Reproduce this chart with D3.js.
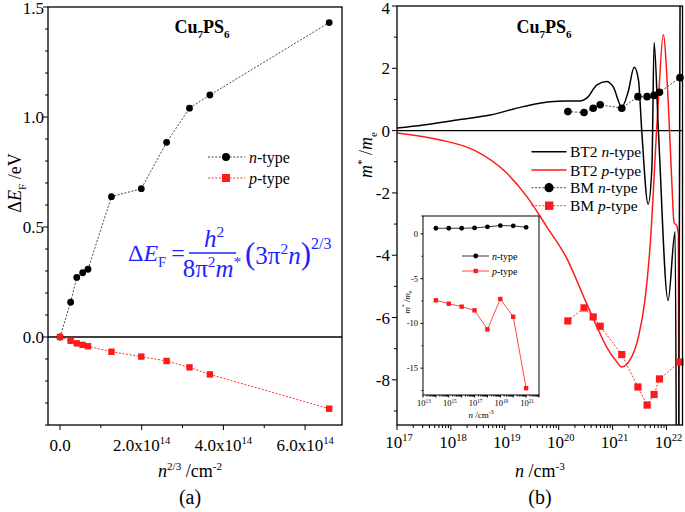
<!DOCTYPE html>
<html><head><meta charset="utf-8">
<script src="https://cdn.jsdelivr.net/npm/d3@7"></script>
<style>body{margin:0;background:#fff} svg{display:block}</style>
</head><body><svg id="c" width="685" height="512" font-family="Liberation Serif"></svg>
<script>
// ---------- DATA ----------
// Panel (a): x = n^(2/3) (cm^-2)
const aX = [0, 0.26e14, 0.41e14, 0.555e14, 0.685e14, 1.26e14, 1.99e14, 2.61e14, 3.17e14, 3.67e14, 6.59e14];
const aNType = [0, 0.158, 0.271, 0.292, 0.308, 0.638, 0.674, 0.885, 1.04, 1.10, 1.429];
const aPType = [0, -0.017, -0.029, -0.036, -0.042, -0.067, -0.089, -0.109, -0.138, -0.170, -0.326];
const aXTicks = [0, 2e14, 4e14, 6e14];
const aXTickLabels = [["0.0"], ["2.0x10", "14"], ["4.0x10", "14"], ["6.0x10", "14"]];
const aYTicks = [0, 0.5, 1.0, 1.5];
const aYTickLabels = ["0.0", "0.5", "1.0", "1.5"];

// Panel (b): BM points, log10(n / cm^-3)
const bmLogN = [20.17, 20.47, 20.64, 20.77, 21.17, 21.47, 21.64, 21.77, 21.87, 22.25];
const bmNType = [0.61, 0.58, 0.72, 0.83, 0.72, 1.09, 1.09, 1.13, 1.23, 1.70];
const bmPType = [-6.11, -5.69, -5.98, -6.28, -7.19, -8.23, -8.81, -8.47, -7.97, -7.43];
// BT2 curves
const bt2NLogN = [17.0, 17.49, 18.11, 18.73, 19.34, 19.84, 20.15, 20.40, 20.52, 20.71, 20.89, 21.01, 21.17, 21.29, 21.40, 21.48, 21.54, 21.66, 21.73, 21.77, 21.85, 22.03, 22.16, 22.21, 22.265];
const bt2NVal  = [0.08, 0.18, 0.34, 0.50, 0.77, 0.93, 0.95, 0.95, 1.04, 1.47, 1.58, 1.41, 0.76, 1.25, 2.03, 1.63, 0.02, -2.36, -1.16, 2.83, 0.0, -5.45, -3.25, -20, 12];
const bt2PLogN = [17.0, 17.80, 18.42, 19.04, 19.41, 19.78, 20.15, 20.49, 20.71, 20.89, 21.08, 21.17, 21.32, 21.48, 21.60, 21.69, 21.85, 21.94, 22.03, 22.10, 22.14, 22.19, 22.22, 22.245];
const bt2PVal  = [-0.08, -0.30, -0.62, -1.37, -2.12, -3.09, -4.10, -5.44, -6.30, -6.95, -7.43, -7.59, -7.37, -6.62, -5.44, -3.84, 0.99, 3.08, 0.99, -1.7, -2.95, -3.05, -3.3, -20];
const bXTickExp = [17, 18, 19, 20, 21, 22];
const bYTicks = [-8, -6, -4, -2, 0, 2, 4];

// Inset
const inLogN = [14, 15, 16, 17, 18, 19, 20, 21];
const inNType = [0.63, 0.63, 0.63, 0.67, 0.79, 0.93, 0.90, 0.74];
const inPType = [-7.42, -7.80, -8.13, -8.54, -10.67, -7.27, -9.26, -17.24];
const inXTickExp = [13, 15, 17, 19, 21];
const inYTicks = [-15, -10, -5, 0];

// ---------- HELPERS ----------
const svg = d3.select("#c");
const FONT = "Liberation Serif";
const RED = "#ff1a1a", BLUE = "#1f1fff";

function rich(g, x, y, parts, size, anchor, color) {
  const t = g.append("text").attr("x", x).attr("y", y).attr("font-size", size).attr("font-family", FONT)
    .attr("text-anchor", anchor || "start").attr("fill", color || "#000");
  let shift = 0;
  parts.forEach(p => {
    const s = Array.isArray(p) ? p[0] : p, o = (Array.isArray(p) && p[1]) || {};
    const target = o.sup ? -(o.lift || 0.4) * size : o.sub ? 0.25 * size : 0;
    const ts = t.append("tspan").text(s).attr("dy", target - shift);
    shift = target;
    if (o.sup || o.sub) ts.attr("font-size", size * (o.scale || 0.62));
    if (o.size) ts.attr("font-size", o.size);
    if (o.i) ts.attr("font-style", "italic");
    if (o.b) ts.attr("font-weight", "bold");
  });
  return t;
}
function plain(g, x, y, s, size, anchor) {
  return g.append("text").attr("x", x).attr("y", y).attr("font-size", size).attr("font-family", FONT).attr("text-anchor", anchor || "start").text(s);
}
function ticksX(g, scale, vals, y, len) {
  g.selectAll(null).data(vals).join("line")
    .attr("x1", d => scale(d)).attr("x2", d => scale(d)).attr("y1", y).attr("y2", y + len)
    .attr("stroke", "#000").attr("stroke-width", 1);
}
function ticksY(g, scale, vals, x, len) {
  g.selectAll(null).data(vals).join("line")
    .attr("y1", d => scale(d)).attr("y2", d => scale(d)).attr("x1", x).attr("x2", x - len)
    .attr("stroke", "#000").attr("stroke-width", 1);
}

// ---------- PANEL (a) ----------
const A = {x0: 48, x1: 342, y0: 7, y1: 425};
const xA = d3.scaleLinear().domain([-0.294e14, 6.904e14]).range([A.x0, A.x1]);
const yA = d3.scaleLinear().domain([-0.4, 1.5]).range([A.y1, A.y0]);
const ga = svg.append("g");

ga.append("line").attr("x1", A.x0).attr("x2", A.x1).attr("y1", yA(0)).attr("y2", yA(0)).attr("stroke", "#000").attr("stroke-width", 1.3);

const lineA = d3.line().x((d, i) => xA(aX[i])).y(d => yA(d));
ga.append("path").attr("d", lineA(aNType)).attr("fill", "none").attr("stroke", "#333").attr("stroke-width", 0.9).attr("stroke-dasharray", "2,1.6");
ga.append("path").attr("d", lineA(aPType)).attr("fill", "none").attr("stroke", RED).attr("stroke-width", 0.9).attr("stroke-dasharray", "2,1.6");
ga.selectAll(null).data(aNType).join("circle").attr("cx", (d, i) => xA(aX[i])).attr("cy", d => yA(d)).attr("r", 3.4).attr("fill", "#000");
ga.selectAll(null).data(aPType).join("rect").attr("x", (d, i) => xA(aX[i]) - 3.2).attr("y", d => yA(d) - 3.2).attr("width", 6.4).attr("height", 6.4).attr("fill", RED);

ga.append("rect").attr("x", A.x0).attr("y", A.y0).attr("width", A.x1 - A.x0).attr("height", A.y1 - A.y0).attr("fill", "none").attr("stroke", "#000").attr("stroke-width", 1.3);

// ticks
ticksX(ga, xA, aXTicks, A.y1, 5);
ticksX(ga, xA, [1e14, 3e14, 5e14], A.y1, 3);
ticksY(ga, yA, aYTicks, A.x0, 5);
const aMinorY = d3.range(-4, 15).map(d => d / 10).filter(d => Math.abs(d * 2 - Math.round(d * 2)) > 1e-6);
ticksY(ga, yA, aMinorY, A.x0, 3);
aYTickLabels.forEach((s, i) => plain(ga, 44, Math.max(yA(aYTicks[i]) + 6, 14), s, 17, "end"));
aXTickLabels.forEach((p, i) => {
  const parts = p.length > 1 ? [p[0], [p[1], {sup: true}]] : [p[0]];
  rich(ga, xA(aXTicks[i]), 451, parts, 17, "middle");
});
rich(ga, 190, 477, [["n", {i: true}], ["2/3", {sup: true}], [" /cm"], ["-2", {sup: true}]], 18, "middle");
rich(ga, 0, 0, [["Δ"], ["E", {i: true}], ["F", {sub: true}], [" /eV"]], 18, "middle").attr("transform", "translate(21,183) rotate(-90)");
plain(ga, 190, 504, "(a)", 20, "middle");
rich(ga, 202, 33, [["Cu", {b: true}], ["7", {b: true, sub: true}], ["PS", {b: true}], ["6", {b: true, sub: true}]], 18, "middle");

// legend (a)
[[157, "#333", "circle", "n"], [178, RED, "rect", "p"]].forEach(([y, c, m, t]) => {
  ga.append("line").attr("x1", 208).attr("x2", 245).attr("y1", y).attr("y2", y).attr("stroke", c).attr("stroke-width", 0.9).attr("stroke-dasharray", "2,1.6");
  if (m === "circle") ga.append("circle").attr("cx", 226).attr("cy", y).attr("r", 4).attr("fill", "#000");
  else ga.append("rect").attr("x", 222).attr("y", y - 4).attr("width", 8).attr("height", 8).attr("fill", RED);
  rich(ga, 249, y + 5.5, [[t, {i: true}], ["-type"]], 16);
});

// formula
const fg = ga.append("g");
rich(fg, 128, 261, [["Δ"], ["E", {i: true}], ["F", {sub: true, scale: 0.6}]], 24, "start", BLUE);
rich(fg, 178, 261, [["="]], 24, "middle", BLUE);
fg.append("line").attr("x1", 189).attr("x2", 236).attr("y1", 253).attr("y2", 253).attr("stroke", BLUE).attr("stroke-width", 1.3);
rich(fg, 214, 247, [["h", {i: true}], ["2", {sup: true}]], 25, "middle", BLUE);
rich(fg, 212, 277, [["8π"], ["2", {sup: true}], ["m", {i: true}], ["*", {sup: true}]], 25, "middle", BLUE);
rich(fg, 245, 264, [["(", {size: 31}], ["3π"], ["2", {sup: true}], ["n", {i: true}], [")", {size: 31}], ["2/3", {sup: true, scale: 0.64, lift: 0.6}]], 25, "start", BLUE);

// ---------- PANEL (b) ----------
const B = {x0: 397, x1: 682.5, y0: 6, y1: 425};
const xB = d3.scaleLog().domain([1e17, Math.pow(10, 22.297)]).range([B.x0, B.x1]);
const yB = d3.scaleLinear().domain([-9.45, 4]).range([B.y1, B.y0]);
const gb = svg.append("g");
svg.append("defs").append("clipPath").attr("id", "clipB").append("rect")
  .attr("x", B.x0).attr("y", B.y0).attr("width", B.x1 - B.x0).attr("height", B.y1 - B.y0);

gb.append("line").attr("x1", B.x0).attr("x2", B.x1).attr("y1", yB(0)).attr("y2", yB(0)).attr("stroke", "#000").attr("stroke-width", 1.3);

const curve = (lx, vals) => d3.line().curve(d3.curveMonotoneX).x((d, i) => xB(Math.pow(10, lx[i]))).y(d => yB(d))(vals);
const cg = gb.append("g").attr("clip-path", "url(#clipB)");
cg.append("path").attr("d", curve(bt2PLogN, bt2PVal)).attr("fill", "none").attr("stroke", RED).attr("stroke-width", 1.5);
cg.append("path").attr("d", curve(bt2NLogN, bt2NVal)).attr("fill", "none").attr("stroke", "#000").attr("stroke-width", 1.5);

const lineB = d3.line().x((d, i) => xB(Math.pow(10, bmLogN[i]))).y(d => yB(d));
gb.append("path").attr("d", lineB(bmNType)).attr("fill", "none").attr("stroke", "#333").attr("stroke-width", 0.9).attr("stroke-dasharray", "2,1.6");
gb.append("path").attr("d", lineB(bmPType)).attr("fill", "none").attr("stroke", RED).attr("stroke-width", 0.9).attr("stroke-dasharray", "2,1.6");
gb.selectAll(null).data(bmNType).join("circle").attr("cx", (d, i) => xB(Math.pow(10, bmLogN[i]))).attr("cy", d => yB(d)).attr("r", 3.8).attr("fill", "#000");
gb.selectAll(null).data(bmPType).join("rect").attr("x", (d, i) => xB(Math.pow(10, bmLogN[i])) - 3.6).attr("y", d => yB(d) - 3.6).attr("width", 7.2).attr("height", 7.2).attr("fill", RED);

gb.append("rect").attr("x", B.x0).attr("y", B.y0).attr("width", B.x1 - B.x0).attr("height", B.y1 - B.y0).attr("fill", "none").attr("stroke", "#000").attr("stroke-width", 1.3);

// ticks (b)
ticksX(gb, xB, bXTickExp.map(e => Math.pow(10, e)), B.y1, 5);
const bMinor = [];
for (let e = 17; e <= 22; e++) for (let k = 2; k <= 9; k++) { const v = k * Math.pow(10, e); if (xB(v) < B.x1 - 0.5) bMinor.push(v); }
ticksX(gb, xB, bMinor, B.y1, 3);
ticksY(gb, yB, bYTicks, B.x0, 5);
ticksY(gb, yB, [-9, -7, -5, -3, -1, 1, 3], B.x0, 3);
bYTicks.forEach(v => plain(gb, 390, Math.max(yB(v) + 6, 14), v, 17, "end"));
bXTickExp.forEach(e => rich(gb, xB(Math.pow(10, e)) + 2, 448, [["10"], [String(e), {sup: true}]], 17, "middle"));
rich(gb, 540, 477, [["n", {i: true}], [" /cm"], ["-3", {sup: true}]], 18, "middle");
rich(gb, 0, 0, [["m", {i: true}], ["*", {sup: true}], [" /"], ["m", {i: true}], ["e", {sub: true}]], 18, "middle").attr("transform", "translate(372,155) rotate(-90)");
plain(gb, 540, 504, "(b)", 20, "middle");
rich(gb, 544, 33, [["Cu", {b: true}], ["7", {b: true, sub: true}], ["PS", {b: true}], ["6", {b: true, sub: true}]], 18, "middle");

// legend (b)
const legB = [
  {y: 151.7, c: "#000", dash: null, m: null, lab: [["BT2 "], ["n", {i: true}], ["-type"]]},
  {y: 170, c: RED, dash: null, m: null, lab: [["BT2 "], ["p", {i: true}], ["-type"]]},
  {y: 187.7, c: "#333", dash: "2,1.6", m: "circle", lab: [["BM "], ["n", {i: true}], ["-type"]]},
  {y: 205.7, c: RED, dash: "2,1.6", m: "rect", lab: [["BM "], ["p", {i: true}], ["-type"]]}
];
legB.forEach(e => {
  const l = gb.append("line").attr("x1", 531.5).attr("x2", 566.5).attr("y1", e.y).attr("y2", e.y).attr("stroke", e.c).attr("stroke-width", e.dash ? 0.9 : 1.5);
  if (e.dash) l.attr("stroke-dasharray", e.dash);
  if (e.m === "circle") gb.append("circle").attr("cx", 549).attr("cy", e.y).attr("r", 4.6).attr("fill", "#000");
  if (e.m === "rect") gb.append("rect").attr("x", 545).attr("y", e.y - 4.2).attr("width", 8.4).attr("height", 8.4).attr("fill", RED);
  rich(gb, 570, e.y + 5.5, e.lab, 15.5);
});

// ---------- INSET ----------
const I = {x0: 423, x1: 539, y0: 216, y1: 395};
const xI = d3.scaleLog().domain([1e13, 1e22]).range([I.x0, I.x1]);
const yI = d3.scaleLinear().domain([-18, 2]).range([I.y1, I.y0]);
const gi = svg.append("g");
gi.append("rect").attr("x", I.x0).attr("y", I.y0).attr("width", I.x1 - I.x0).attr("height", I.y1 - I.y0).attr("fill", "#fff").attr("stroke", "#000").attr("stroke-width", 1);
const lineI = d3.line().x((d, i) => xI(Math.pow(10, inLogN[i]))).y(d => yI(d));
gi.append("path").attr("d", lineI(inNType)).attr("fill", "none").attr("stroke", "#000").attr("stroke-width", 0.8);
gi.append("path").attr("d", lineI(inPType)).attr("fill", "none").attr("stroke", RED).attr("stroke-width", 0.8);
gi.selectAll(null).data(inNType).join("circle").attr("cx", (d, i) => xI(Math.pow(10, inLogN[i]))).attr("cy", d => yI(d)).attr("r", 2.4).attr("fill", "#000");
gi.selectAll(null).data(inPType).join("rect").attr("x", (d, i) => xI(Math.pow(10, inLogN[i])) - 2.2).attr("y", d => yI(d) - 2.2).attr("width", 4.4).attr("height", 4.4).attr("fill", RED);
ticksX(gi, xI, d3.range(13, 23).map(e => Math.pow(10, e)), I.y1, 2.5);
const iMinor = [];
for (let e = 13; e < 22; e++) for (let k = 2; k <= 9; k++) iMinor.push(k * Math.pow(10, e));
ticksX(gi, xI, iMinor, I.y1, 1.5);
ticksY(gi, yI, inYTicks, I.x0, 2.5);
ticksY(gi, yI, [-17.5, -12.5, -7.5, -2.5, 2], I.x0, 1.5);
inYTicks.forEach(v => plain(gi, 418, yI(v) + 3, v, 8.5, "end"));
inXTickExp.forEach(e => rich(gi, xI(Math.pow(10, e)) + 1, 406, [["10"], [String(e), {sup: true}]], 8.5, "middle"));
rich(gi, 481, 418, [["n", {i: true}], [" /cm"], ["-3", {sup: true}]], 9, "middle");
rich(gi, 0, 0, [["m", {i: true}], ["*", {sup: true}], [" /"], ["m", {i: true}], ["e", {sub: true}]], 9, "middle").attr("transform", "translate(410,302) rotate(-90)");
[[256, "#000", "circle", "n"], [271, RED, "rect", "p"]].forEach(([y, c, m, t]) => {
  gi.append("line").attr("x1", 462).attr("x2", 489).attr("y1", y).attr("y2", y).attr("stroke", c).attr("stroke-width", 0.8);
  if (m === "circle") gi.append("circle").attr("cx", 475.7).attr("cy", y).attr("r", 2.4).attr("fill", "#000");
  else gi.append("rect").attr("x", 473.5).attr("y", y - 2.2).attr("width", 4.4).attr("height", 4.4).attr("fill", RED);
  rich(gi, 492, y + 3.5, [[t, {i: true}], ["-type"]], 10);
});
</script></body></html>
